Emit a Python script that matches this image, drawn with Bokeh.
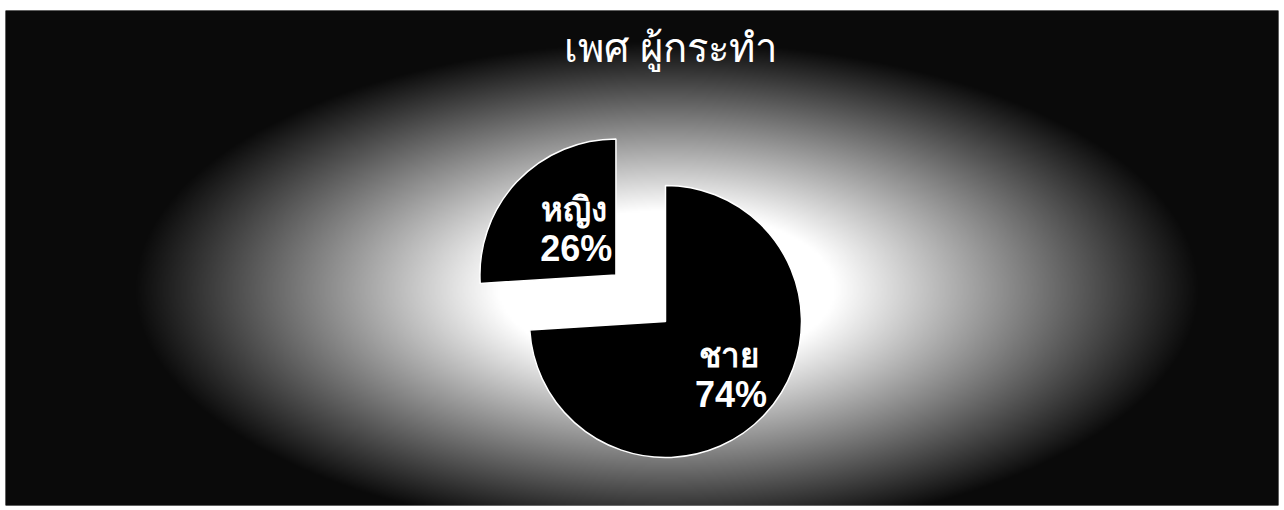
import numpy as np
from math import pi, cos, sin
from bokeh.plotting import figure
from bokeh.models import Range1d, ColumnDataSource
from bokeh.core.properties import value
from bokeh.embed import file_html
from bokeh.resources import INLINE

# ---- data ----
title_text = "เพศ ผู้กระทำ"
categories = ["ชาย", "หญิง"]
percents = [74, 26]
pct_labels = ["74%", "26%"]
explode_px = [0, 68]
label_radius_frac = [0.64, 0.42]

FW, FH = 1273, 495
p = figure(width=FW + 7, height=FH + 11, output_backend="svg", toolbar_location=None,
           x_range=Range1d(0, FW), y_range=Range1d(0, FH),
           min_border_left=5, min_border_top=10, min_border_right=2, min_border_bottom=1)
p.axis.visible = False
p.grid.visible = False
p.outline_line_color = None
p.background_fill_color = "black"
p.border_fill_color = "white"

# ---- background: radial light glow (decoration) ----
ny, nx = FH // 2, FW // 2
yy, xx = np.mgrid[0:ny, 0:nx]
cxp, cyp = 660 / 2, 215 / 2
d = np.sqrt(((xx - cxp) / (560 / 2)) ** 2 + ((yy - cyp) / (260 / 2)) ** 2)
b = np.clip((0.95 - d) / 0.65, 0, 1)
g = np.clip((b * 245 + 10), 0, 255).astype(np.uint32)
img = (np.uint32(255) << 24) | (g << 16) | (g << 8) | g
p.image_rgba(image=[img.astype(np.uint32)], x=0, y=0, dw=FW, dh=FH)

# ---- pie ----
cx, cy, r = 660, 184, 136
fracs = np.array(percents) / sum(percents)
ends = pi / 2 - 2 * pi * np.cumsum(fracs)
starts = np.concatenate([[pi / 2], ends[:-1]])
mids = (starts + ends) / 2
xs = [cx + e * cos(m) for e, m in zip(explode_px, mids)]
ys = [cy + e * sin(m) for e, m in zip(explode_px, mids)]
src = ColumnDataSource(dict(x=xs, y=ys, start=list(starts), end=list(ends), cat=categories))
p.wedge(x="x", y="y", radius=r, start_angle="start", end_angle="end", direction="clock",
        fill_color="black", line_color="white", line_width=1.5, source=src)

lx = [x + f * r * cos(m) for x, f, m in zip(xs, label_radius_frac, mids)]
ly = [y + f * r * sin(m) for y, f, m in zip(ys, label_radius_frac, mids)]
font = value("Liberation Sans")
p.text(x=lx, y=[v + 26 for v in ly], text=categories, text_color="white", text_font=font,
       text_font_size="33px", text_font_style="bold", text_align="center",
       text_baseline="alphabetic")
p.text(x=[v + 2 for v in lx], y=[v - 13 for v in ly], text=pct_labels, text_color="white",
       text_font=font, text_font_size="36px", text_font_style="bold", text_align="center",
       text_baseline="alphabetic")

# ---- title ----
p.text(x=[665], y=[458], text=[title_text], text_color="white", text_font=font,
       text_font_size="40px", text_font_style="normal", text_align="center",
       text_baseline="alphabetic")

open("out.html", "w").write(file_html(p, INLINE))
